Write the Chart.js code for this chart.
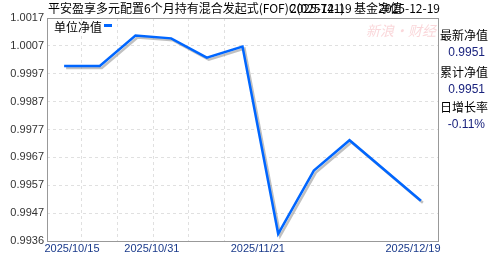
<!DOCTYPE html>
<html>
<head>
<meta charset="utf-8">
<script src="https://cdn.jsdelivr.net/npm/chart.js@4/dist/chart.umd.min.js"></script>
<style>
  html, body { margin: 0; padding: 0; background: #fff; }
  #wrap { width: 488px; height: 255px; position: relative; }
</style>
</head>
<body>
<div id="wrap"><canvas id="navChart" width="488" height="255"></canvas></div>
<script>
// weekly slots on the x axis (slot 9 has no value)
const navSlots = [0, 1, 2, 3, 4, 5, 6, 7, 8, 10];
const navValues = [1.0000, 1.0000, 1.0011, 1.0010, 1.0003, 1.0007, 0.9939, 0.9962, 0.9973, 0.9951];
const dateLabels = ['2025/10/15', '2025/10/31', '2025/11/21', '2025/12/19'];
const dateLabelSlots = [0.22, 2.46, 5.43, 9.78];
const gridSlots = [0.5, 1.5, 2.5, 3.5, 4.5];
const yMin = 0.99364, yMax = 1.00174, yTickCount = 9;

const titleMain = '平安盈享多元配置6个月持有混合发起式(FOF)C(025741)';
const titleSuffix = '基金净值';
const titleDate = '2025-12-19';
const sideLabels = ['最新净值', '累计净值', '日增长率'];
const sideValues = ['0.9951', '0.9951', '-0.11%'];
const seriesName = '单位净值';

const cjk = "'Noto Sans CJK SC', sans-serif";
const latin = "'Liberation Sans', Arial, sans-serif";

const decor = {
  id: 'decor',
  beforeDatasetsDraw(chart) {
    const ctx = chart.ctx;
    ctx.save();
    // watermark
    ctx.fillStyle = 'rgba(240,140,150,0.35)';
    ctx.font = 'italic 14px ' + cjk;
    ctx.textBaseline = 'middle';
    ctx.fillText('新浪·财经', 366, 31);
    ctx.restore();
  },
  beforeDatasetDraw(chart) {
    const ctx = chart.ctx;
    ctx.save();
    ctx.shadowColor = 'rgba(150,150,150,0.6)';
    ctx.shadowOffsetX = 2;
    ctx.shadowOffsetY = 2;
    ctx.shadowBlur = 0;
  },
  afterDatasetDraw(chart) {
    chart.ctx.restore();
  },
  afterDraw(chart) {
    const { ctx, chartArea: a } = chart;
    ctx.save();
    // frame
    ctx.strokeStyle = '#999';
    ctx.lineWidth = 1;
    ctx.strokeRect(Math.round(a.left) + 0.5, Math.round(a.top) + 0.5,
      Math.round(a.right - a.left), Math.round(a.bottom - a.top));

    // title (the original overlaps its date over the fund code)
    ctx.fillStyle = '#000';
    ctx.font = '12px ' + cjk;
    ctx.textBaseline = 'alphabetic';
    ctx.textAlign = 'left';
    ctx.fillText(titleMain, 48, 13);
    ctx.fillText(titleSuffix, 354, 13);
    ctx.fillText(titleDate, 290, 13);
    ctx.textAlign = 'right';
    ctx.fillText(titleDate, 440, 13);

    // legend inside plot
    ctx.textAlign = 'left';
    ctx.textBaseline = 'middle';
    ctx.font = '12px ' + cjk;
    ctx.fillText(seriesName, 54, 27);
    ctx.fillStyle = '#0066ff';
    ctx.fillRect(104, 24, 8, 3);

    // side panel
    const ys = [35, 72, 107];
    sideLabels.forEach((t, i) => {
      ctx.fillStyle = '#000';
      ctx.textAlign = 'left';
      ctx.font = '12px ' + cjk;
      ctx.fillText(t, 440, ys[i]);
      ctx.fillStyle = '#1a237e';
      ctx.textAlign = 'right';
      ctx.font = '12px ' + latin;
      ctx.fillText(sideValues[i], 485, ys[i] + 18);
    });
    ctx.restore();
  }
};

new Chart(document.getElementById('navChart').getContext('2d'), {
  type: 'line',
  data: {
    datasets: [{
      label: seriesName,
      data: navSlots.map((s, i) => ({ x: s, y: navValues[i] })),
      borderColor: '#0066ff',
      borderWidth: 2.5,
      pointRadius: 0,
      tension: 0,
      fill: false
    }]
  },
  plugins: [decor],
  options: {
    responsive: false,
    animation: false,
    layout: { padding: { left: 0, top: 18, right: 50, bottom: 0 } },
    plugins: { legend: { display: false }, tooltip: { enabled: false } },
    scales: {
      x: {
        type: 'linear',
        min: -0.48,
        max: 10.48,
        afterBuildTicks(scale) { scale.ticks = dateLabelSlots.map(v => ({ value: v })); },
        afterFit(scale) { scale.height = 14; },
        ticks: {
          autoSkip: false,
          maxRotation: 0,
          padding: 1,
          color: '#1a3a8a',
          font: { family: latin, size: 11 },
          callback: (v, i) => dateLabels[i]
        },
        grid: { display: false, drawTicks: false },
        border: { display: false }
      },
      xg: {
        type: 'linear',
        position: 'bottom',
        min: -0.48,
        max: 10.48,
        afterBuildTicks(scale) { scale.ticks = gridSlots.map(v => ({ value: v })); },
        afterFit(scale) { scale.height = 0; },
        ticks: { display: false },
        grid: { color: '#e0e0e0', drawTicks: false },
        border: { display: false, dash: [3, 3] }
      },
      y: {
        min: yMin,
        max: yMax,
        afterBuildTicks(scale) {
          const step = (yMax - yMin) / (yTickCount - 1);
          scale.ticks = Array.from({ length: yTickCount }, (_, k) => ({ value: yMin + k * step }));
        },
        afterFit(scale) { scale.width = 47; },
        ticks: {
          padding: 3,
          color: '#333',
          font: { family: latin, size: 11 },
          callback: v => v.toFixed(4)
        },
        grid: { color: '#e0e0e0', drawTicks: false },
        border: { display: false, dash: [3, 3] }
      }
    }
  }
});
</script>
</body>
</html>
